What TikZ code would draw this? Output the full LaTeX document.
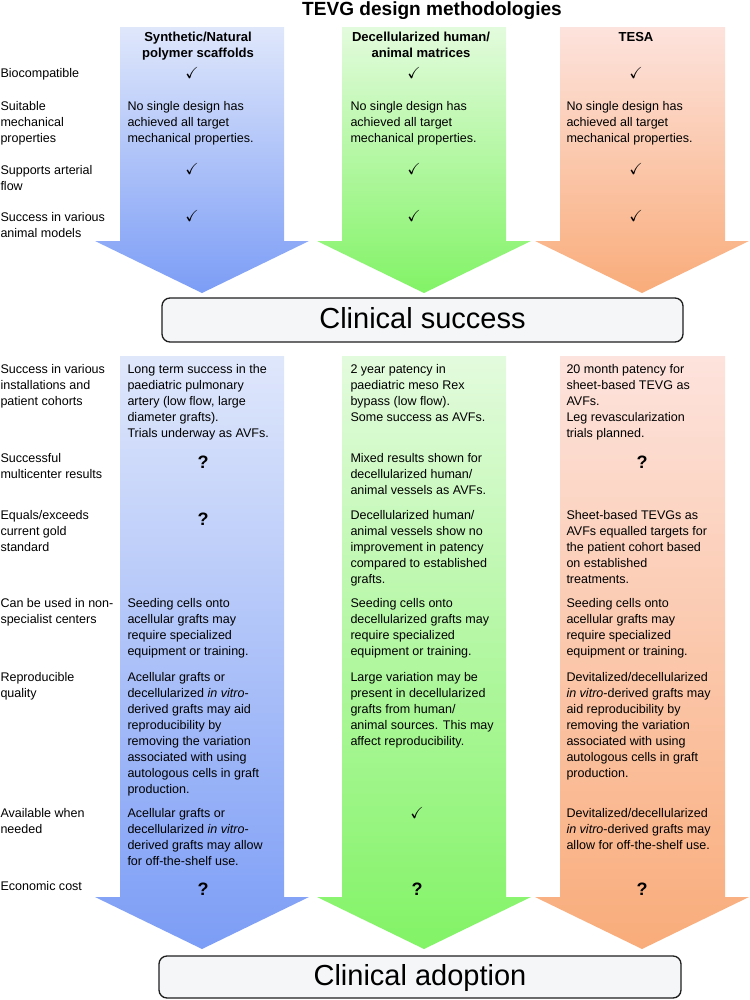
\documentclass[tikz,border=0pt]{standalone}
\usepackage{fontspec}
\setmainfont{Liberation Sans}
\usepackage{amssymb}

\tikzset{every picture/.style={line width=0.75pt}}
\tikzset{
  rowlabel/.style={anchor=base west, inner sep=0pt, align=left, font=\fontsize{9.4}{12}\selectfont},
  celltext/.style={anchor=base west, inner sep=0pt, align=left, font=\fontsize{9.4}{12}\selectfont},
  headtext/.style={anchor=base, inner sep=0pt, align=center, font=\fontsize{9.8}{12}\selectfont\bfseries},
  tick/.style={anchor=base, inner sep=0pt, font=\fontsize{12}{12}\selectfont},
  unknown/.style={anchor=base, inner sep=0pt, font=\fontsize{13.5}{13.5}\selectfont\bfseries},
  milestone/.style={draw={rgb, 255:red, 30; green, 30; blue, 30 }, line width=1pt, rounded corners=6pt, fill={rgb, 255:red, 244; green, 246; blue, 248 }},
  polyfill/.style={top color={rgb, 255:red, 223; green, 231; blue, 251 }, bottom color={rgb, 255:red, 124; green, 157; blue, 246 }},
  decelfill/.style={top color={rgb, 255:red, 227; green, 251; blue, 221 }, bottom color={rgb, 255:red, 130; green, 243; blue, 102 }},
  tesafill/.style={top color={rgb, 255:red, 253; green, 227; blue, 221 }, bottom color={rgb, 255:red, 249; green, 172; blue, 122 }}
}

\begin{document}
\begin{tikzpicture}[x=0.75pt,y=0.75pt,yscale=-1,xscale=1]
\useasboundingbox (0,0) rectangle (750,1000);

%Shape: Arrow [polymer scaffolds, top]
\shade [polyfill] (120,27) -- (284,27) -- (284,241) -- (309,241) -- (202,293) -- (95,241) -- (120,241) -- cycle ;
%Shape: Arrow [decellularized matrices, top]
\shade [decelfill] (342,27) -- (506,27) -- (506,241) -- (531,241) -- (424,293) -- (317,241) -- (342,241) -- cycle ;
%Shape: Arrow [TESA, top]
\shade [tesafill] (560,27) -- (725,27) -- (725,241) -- (749,241) -- (642,293) -- (535,241) -- (560,241) -- cycle ;

%Shape: Arrow [polymer scaffolds, bottom]
\shade [polyfill] (120,356) -- (284,356) -- (284,897) -- (309,897) -- (202,949) -- (95,897) -- (120,897) -- cycle ;
%Shape: Arrow [decellularized matrices, bottom]
\shade [decelfill] (342,356) -- (506,356) -- (506,897) -- (531,897) -- (424,949) -- (317,897) -- (342,897) -- cycle ;
%Shape: Arrow [TESA, bottom]
\shade [tesafill] (560,356) -- (725,356) -- (725,897) -- (749,897) -- (642,949) -- (535,897) -- (560,897) -- cycle ;

%Rounded Rect [clinical success]
\draw [milestone] (162,298) rectangle (683,342) ;
%Rounded Rect [clinical adoption]
\draw [milestone] (159,956) rectangle (681,998) ;

% Text Node
\draw (432,15) node [anchor=base, inner sep=0pt, font=\fontsize{14.3}{16}\selectfont\bfseries] (title) {TEVG design methodologies};
% Text Node
\draw (198,57) node [headtext] (hdPoly) {Synthetic/Natural\\polymer scaffolds};
% Text Node
\draw (421,57) node [headtext] (hdDecel) {Decellularized human/\\animal matrices};
% Text Node
\draw (636,41) node [headtext] (hdTesa) {TESA};
% Text Node
\draw (422.5,328) node [anchor=base, inner sep=0pt, font=\fontsize{21.75}{24}\selectfont] (success) {Clinical success};
% Text Node
\draw (420,985) node [anchor=base, inner sep=0pt, font=\fontsize{21.75}{24}\selectfont] (adoption) {Clinical adoption};

% Row labels (base = last line)
\draw (0,77.5) node [rowlabel] (lbBio) {Biocompatible};
\draw (0,142) node [rowlabel] (lbMech) {Suitable\\mechanical\\properties};
\draw (0,190) node [rowlabel] (lbFlow) {Supports arterial\\flow};
\draw (0,237) node [rowlabel] (lbAnimal) {Success in various\\animal models};
\draw (0,405.5) node [rowlabel] (lbCohort) {Success in various\\installations and\\patient cohorts};
\draw (0,478.5) node [rowlabel] (lbMulti) {Successful\\multicenter results};
\draw (0,551.5) node [rowlabel] (lbGold) {Equals/exceeds\\current gold\\standard};
\draw (0,623.5) node [rowlabel] (lbCenters) {Can be used in non-\\specialist centers};
\draw (0,697.5) node [rowlabel] (lbRepro) {Reproducible\\quality};
\draw (0,833.5) node [rowlabel] (lbAvail) {Available when\\needed};
\draw (0,890.5) node [rowlabel] (lbCost) {Economic cost};

% Polymer scaffolds column
\draw (192,78) node [tick] (polyBio) {$\checkmark$};
\draw (127,142) node [celltext] (polyMech) {No single design has\\achieved all target\\mechanical properties.};
\draw (192,174.5) node [tick] (polyFlow) {$\checkmark$};
\draw (192,221.5) node [tick] (polyAnimal) {$\checkmark$};
\draw (127,437.5) node [celltext] (polyCohort) {Long term success in the\\paediatric pulmonary\\artery (low flow, large\\diameter grafts).\\Trials underway as AVFs.};
\draw (203,468) node [unknown] (polyMulti) {?};
\draw (203,525) node [unknown] (polyGold) {?};
\draw (127,655.5) node [celltext] (polyCenters) {Seeding cells onto\\acellular grafts may\\require specialized\\equipment or training.};
\draw (127,793.5) node [celltext] (polyRepro) {Acellular grafts or\\decellularized \textit{in vitro}-\\derived grafts may aid\\reproducibility by\\removing the variation\\associated with using\\autologous cells in graft\\production.};
\draw (127,865.5) node [celltext] (polyAvail) {Acellular grafts or\\decellularized \textit{in vitro}-\\derived grafts may allow\\for off-the-shelf use.};
\draw (203,895.5) node [unknown] (polyCost) {?};

% Decellularized matrices column
\draw (414,78) node [tick] (decelBio) {$\checkmark$};
\draw (350,142) node [celltext] (decelMech) {No single design has\\achieved all target\\mechanical properties.};
\draw (414,174.5) node [tick] (decelFlow) {$\checkmark$};
\draw (414,221.5) node [tick] (decelAnimal) {$\checkmark$};
\draw (350,421.5) node [celltext] (decelCohort) {2 year patency in\\paediatric meso Rex\\bypass (low flow).\\Some success as AVFs.};
\draw (350,494.5) node [celltext] (decelMulti) {Mixed results shown for\\decellularized human/\\animal vessels as AVFs.};
\draw (350,583.5) node [celltext] (decelGold) {Decellularized human/\\animal vessels show no\\improvement in patency\\compared to established\\grafts.};
\draw (350,655.5) node [celltext] (decelCenters) {Seeding cells onto\\decellularized grafts may\\require specialized\\equipment or training.};
\draw (350,745.5) node [celltext] (decelRepro) {Large variation may be\\present in decellularized\\grafts from human/\\animal sources. This may\\affect reproducibility.};
\draw (417,818) node [tick] (decelAvail) {$\checkmark$};
\draw (417,895.5) node [unknown] (decelCost) {?};

% TESA column
\draw (636,78) node [tick] (tesaBio) {$\checkmark$};
\draw (566,142) node [celltext] (tesaMech) {No single design has\\achieved all target\\mechanical properties.};
\draw (636,174.5) node [tick] (tesaFlow) {$\checkmark$};
\draw (636,221.5) node [tick] (tesaAnimal) {$\checkmark$};
\draw (566,437.5) node [celltext] (tesaCohort) {20 month patency for\\sheet-based TEVG as\\AVFs.\\Leg revascularization\\trials planned.};
\draw (642,468) node [unknown] (tesaMulti) {?};
\draw (566,583.5) node [celltext] (tesaGold) {Sheet-based TEVGs as\\AVFs equalled targets for\\the patient cohort based\\on established\\treatments.};
\draw (566,655.5) node [celltext] (tesaCenters) {Seeding cells onto\\acellular grafts may\\require specialized\\equipment or training.};
\draw (566,777.5) node [celltext] (tesaRepro) {Devitalized/decellularized\\\textit{in vitro}-derived grafts may\\aid reproducibility by\\removing the variation\\associated with using\\autologous cells in graft\\production.};
\draw (566,849.5) node [celltext] (tesaAvail) {Devitalized/decellularized\\\textit{in vitro}-derived grafts may\\allow for off-the-shelf use.};
\draw (642,895.5) node [unknown] (tesaCost) {?};

\end{tikzpicture}
\end{document}
